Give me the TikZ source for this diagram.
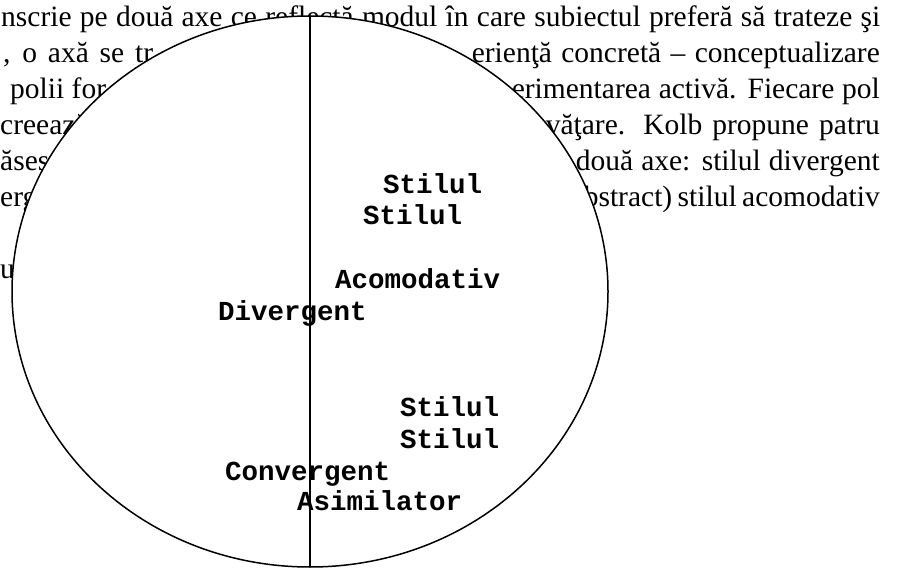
\documentclass[tikz,border=0pt]{standalone}
\usepackage{fontspec}
\setmainfont{Liberation Serif}
\setmonofont{Liberation Mono}
\usetikzlibrary{shapes.geometric}

\begin{document}
\begin{tikzpicture}[x=1pt,y=-1pt,
    txt/.style={inner sep=0pt,font=\fontsize{29.5}{36}\selectfont},
    txtl/.style={txt,anchor=base west},
    txtr/.style={txt,anchor=base east},
    lbl/.style={inner sep=0pt,anchor=base west,
                font=\ttfamily\bfseries\fontsize{27.5}{31}\selectfont}]
  \useasboundingbox (0,0) rectangle (897,569);
  \clip (0,0) rectangle (897,569);
  % paragraph behind the figure
  \node[txtl] (row1) at (1,27) {\makebox[879pt][s]{nscrie pe două axe ce reflectă modul în care subiectul preferă să trateze şi}};
  \node[txtl] (row2a) at (3,63) {\makebox[150pt][s]{, o axă se tr}};
  \node[txtr] (row2b) at (880,63) {\makebox[408pt][s]{erienţă concretă – conceptualizare}};
  \node[txtl] (row3a) at (10,99) {polii for};
  \node[txtr] (row3b) at (880,99) {\makebox[368pt][s]{erimentarea activă. Fiecare pol}};
  \node[txtl] (row4a) at (0,135) {creează};
  \node[txtr] (row4b) at (880,135) {\makebox[334pt][s]{văţare. Kolb propune patru}};
  \node[txtl] (row5a) at (0,171) {ăsesc};
  \node[txtr] (row5b) at (880,171) {\makebox[304pt][s]{două axe: stilul divergent}};
  \node[txtl] (row6a) at (0,207) {erg};
  \node[txtr] (row6b) at (880,207) {\makebox[296pt][s]{bstract) stilul acomodativ}};
  \node[txtl] (row7a) at (0,279) {u};
  % the two axes figure
  \node[draw,fill=white,line width=1.5pt,ellipse,inner sep=0pt,outer sep=0pt,
        minimum width=596pt,minimum height=551pt] (oval) at (310,291.5) {};
  \draw[line width=1.5pt] (oval.north) -- (oval.south);
  \node[lbl] (stilA) at (383,194) {Stilul};
  \node[lbl] (stilB) at (363,225) {Stilul};
  \node[lbl] (acom) at (335,289) {Acomodativ};
  \node[lbl] (diverg) at (218,320) {Divergent};
  \node[lbl] (stilC) at (400,416) {Stilul};
  \node[lbl] (stilD) at (400,448) {Stilul};
  \node[lbl] (converg) at (225,480) {Convergent};
  \node[lbl] (asim) at (297,510) {Asimilator};
\end{tikzpicture}
\end{document}
